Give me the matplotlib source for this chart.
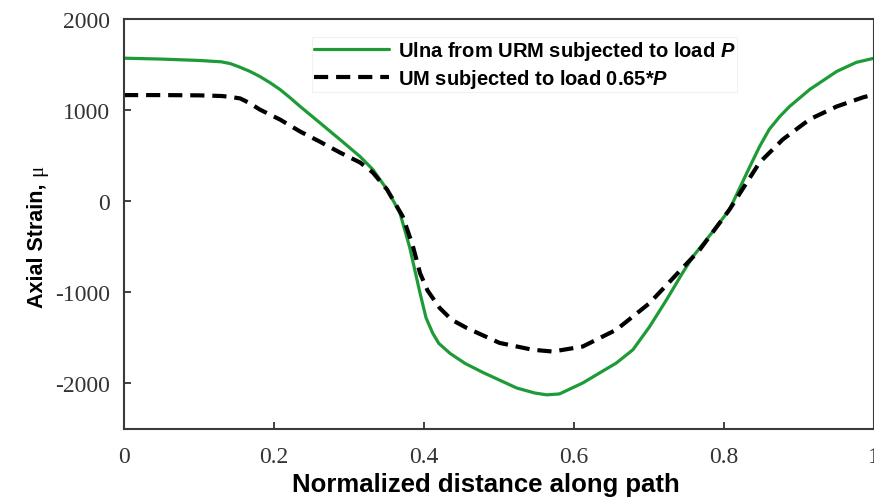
import matplotlib
matplotlib.use("Agg")
import matplotlib.pyplot as plt

# Data
x_ulna = [0, 0.05, 0.1, 0.13, 0.142, 0.155, 0.168, 0.181, 0.195, 0.208, 0.221, 0.235, 0.261,
          0.288, 0.315, 0.332, 0.351, 0.368, 0.381, 0.395, 0.403, 0.412, 0.420, 0.435, 0.455,
          0.479, 0.524, 0.548, 0.564, 0.581, 0.612, 0.657, 0.679, 0.701, 0.724, 0.745, 0.759,
          0.785, 0.808, 0.835, 0.848, 0.861, 0.875, 0.888, 0.915, 0.951, 0.977, 1.0]
y_ulna = [1570, 1560, 1545, 1530, 1510, 1470, 1425, 1370, 1300, 1227, 1140, 1040, 863,
          678, 490, 348, 128, -125, -500, -1010, -1280, -1450, -1560, -1670, -1780,
          -1880, -2050, -2105, -2125, -2115, -1995, -1775, -1630, -1380, -1080, -790, -608,
          -340, -90, 380, 600, 790, 930, 1040, 1227, 1425, 1524, 1568]

x_um = [0, 0.05, 0.1, 0.13, 0.142, 0.155, 0.168, 0.181, 0.208, 0.235, 0.261, 0.288, 0.315,
        0.332, 0.351, 0.372, 0.385, 0.395, 0.405, 0.421, 0.437, 0.457, 0.501, 0.545, 0.572,
        0.612, 0.657, 0.701, 0.745, 0.768, 0.808, 0.848, 0.879, 0.915, 0.951, 0.986, 1.0]
y_um = [1165, 1165, 1162, 1155, 1145, 1128, 1075, 1007, 897, 765, 655, 535, 425,
        315, 128, -170, -480, -790, -980, -1170, -1300, -1390, -1555, -1630, -1650,
        -1595, -1410, -1120, -735, -535, -90, 425, 678, 900, 1040, 1140, 1170]

x_ticks = [0, 0.2, 0.4, 0.6, 0.8, 1]
x_ticklabels = ["0", "0.2", "0.4", "0.6", "0.8", "1"]
y_ticks = [-2000, -1000, 0, 1000, 2000]
y_ticklabels = ["-2000", "-1000", "0", "1000", "2000"]

label_ulna = "Ulna from URM subjected to load $P$"
label_um = "UM subjected to load 0.65*$P$"
x_label = "Normalized distance along path"
y_label = "Axial Strain, "
y_unit = "\u03bc"

plt.rcParams["mathtext.fontset"] = "custom"
plt.rcParams["mathtext.it"] = "Liberation Sans:italic:bold"
plt.rcParams["mathtext.rm"] = "Liberation Sans:bold"

W, H = 874, 502
fig = plt.figure(figsize=(W / 100, H / 100), dpi=100)
left, right, top, bottom = 124, 873.5, 20, 430
ax = fig.add_axes([left / W, 1 - bottom / H, (right - left) / W, (bottom - top) / H])

ax.plot(x_ulna, y_ulna, color="#1e9b36", lw=2.3, label=label_ulna,
        solid_joinstyle="round", solid_capstyle="round")
ax.plot(x_um, y_um, color="black", lw=3.0, dashes=(3.4, 1.9), label=label_um)

ax.set_xlim(0, 1)
ax.set_ylim(-2500, 2000)
ax.set_xticks(x_ticks)
ax.set_xticklabels(x_ticklabels)
ax.set_yticks(y_ticks)
ax.set_yticklabels(y_ticklabels)
for lab in ax.get_xticklabels() + ax.get_yticklabels():
    lab.set_fontfamily("Liberation Serif")
    lab.set_fontsize(17)
    lab.set_color("#333333")
ax.tick_params(direction="in", length=5, width=1.3, color="#333333", pad=12)
ax.tick_params(axis="y", pad=10)
for sp in ax.spines.values():
    sp.set_linewidth(1.5)
    sp.set_color("#3a3a3a")

fig.text(486 / W, 1 - 485 / H, x_label, ha="center", va="center",
         fontsize=18.5, fontweight="bold", family="Liberation Sans")
t1 = fig.text(42 / W, 1 - 308 / H, y_label, ha="left", va="baseline",
              rotation=90, rotation_mode="anchor", fontsize=15.5, fontweight="bold",
              family="Liberation Sans")
fig.canvas.draw()
bb = t1.get_window_extent(fig.canvas.get_renderer())
fig.text(42 / W, (bb.y1 + 1) / H, y_unit, ha="left", va="baseline",
         rotation=90, rotation_mode="anchor", fontsize=15, family="Liberation Serif")

leg = ax.legend(loc="upper left", bbox_to_anchor=(312 / W, 1 - 38 / H),
                bbox_transform=fig.transFigure, borderaxespad=0, frameon=True, fancybox=False,
                handlelength=3.7, handletextpad=0.45, borderpad=0.1, labelspacing=0.27,
                prop={"family": "Liberation Sans", "weight": "bold", "size": 14.5})
leg.get_frame().set_edgecolor("#eeeeee")
leg.get_frame().set_linewidth(0.8)

fig.savefig("out.png", dpi=100)
